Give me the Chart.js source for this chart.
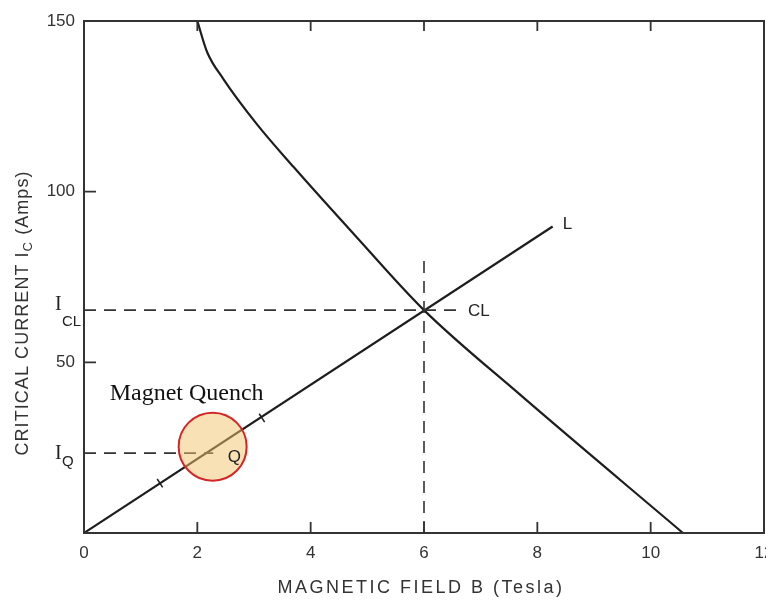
<!DOCTYPE html>
<html><head><meta charset="utf-8">
<script src="https://cdn.jsdelivr.net/npm/chart.js@4.4.0/dist/chart.umd.min.js"></script>
<style>html,body{margin:0;padding:0;background:#fff;}</style>
</head><body>
<canvas id="c" width="766" height="603"></canvas>
<script>
// ---- data ----
const xTicks = [0, 2, 4, 6, 8, 10, 12];
const yTicks = [0, 50, 100, 150];
// critical current curve Ic(B)
const curveB  = [2.0, 2.17, 2.46, 3.05, 3.7, 4.82, 6.0, 7.69, 10.57];
const curveIc = [150, 141, 133, 119.8, 107.2, 86.5, 65.3, 40.6, 0];
// load line L
const loadB = [0, 8.27];
const loadI = [0, 89.8];
// small marks on the load line
const markB = [1.34, 3.14];
const markI = [14.6, 33.7];
// critical point CL
const clB = 6.0, clI = 65.3;
const clDashEndB = 6.6, clVertTopI = 82;
// quench point Q
const qB = 2.2, qI = 23.4;
const qDashEndB = 2.28;
// highlight circle centre
const circB = 2.27, circI = 25.3;

const SANS = '"Liberation Sans", Arial, sans-serif';
const SERIF = '"Liberation Serif", "Times New Roman", serif';
const INK = '#1e1e1e';

const pts = (xs, ys) => xs.map((x, i) => ({x, y: ys[i]}));
const dashStyle = {showLine: true, borderColor: '#333', borderWidth: 1.6, borderDash: [12, 8], pointRadius: 0, fill: false};

const annot = {
  id: 'annot',
  afterDatasetsDraw(chart) {
    const {ctx, chartArea: a, scales: {x, y}} = chart;
    ctx.save();
    // frame
    ctx.strokeStyle = '#333';
    ctx.lineWidth = 2;
    ctx.strokeRect(a.left, a.top, a.right - a.left, a.bottom - a.top);
    // inward ticks
    ctx.lineWidth = 1.8;
    ctx.beginPath();
    x.ticks.forEach(t => {
      if (t.value <= x.min || t.value >= x.max) return;
      const px = x.getPixelForValue(t.value);
      ctx.moveTo(px, a.bottom); ctx.lineTo(px, a.bottom - 11);
      ctx.moveTo(px, a.top); ctx.lineTo(px, a.top + 10);
    });
    y.ticks.forEach(t => {
      if (t.value <= y.min || t.value >= y.max) return;
      const py = y.getPixelForValue(t.value);
      ctx.moveTo(a.left, py); ctx.lineTo(a.left + 12, py);
    });
    ctx.stroke();

    ctx.fillStyle = '#222';
    ctx.textBaseline = 'middle';
    // L label
    ctx.font = '17px ' + SANS;
    ctx.textAlign = 'left';
    ctx.fillText('L', x.getPixelForValue(loadB[1]) + 10, y.getPixelForValue(loadI[1]) - 2);
    // CL label
    ctx.fillText('CL', x.getPixelForValue(clB) + 44, y.getPixelForValue(clI) + 1);
    // Q label
    ctx.fillText('Q', x.getPixelForValue(qB) + 19, y.getPixelForValue(qI) + 4);

    // I_CL and I_Q on the y axis
    const sub = (main, s, py, dyMain, dySub) => {
      ctx.textAlign = 'left';
      ctx.font = '20px ' + SERIF;
      ctx.fillText(main, 55, py + dyMain);
      ctx.font = '15px ' + SANS;
      ctx.fillText(s, 62, py + dySub);
    };
    sub('I', 'CL', y.getPixelForValue(clI), -5, 12);
    sub('I', 'Q', y.getPixelForValue(qI), 1, 9);

    // Magnet Quench
    ctx.textAlign = 'center';
    ctx.textBaseline = 'alphabetic';
    ctx.fillStyle = '#111';
    ctx.font = '24px ' + SERIF;
    ctx.fillText('Magnet Quench', x.getPixelForValue(circB) - 26, y.getPixelForValue(circI) - 47);

    // axis titles
    ctx.fillStyle = '#333';
    ctx.textBaseline = 'middle';
    const drawRuns = (runs, cx, cy, rot, target) => {
      ctx.save();
      ctx.translate(cx, cy);
      ctx.rotate(rot);
      ctx.textAlign = 'left';
      let total = 0, nch = 0;
      runs.forEach(r => { ctx.font = r.font; ctx.letterSpacing = '0px'; total += ctx.measureText(r.t).width; nch += r.t.length; });
      const ls = Math.max(0, (target - total) / nch);
      let cur = -target / 2;
      runs.forEach(r => {
        ctx.font = r.font;
        ctx.letterSpacing = ls + 'px';
        ctx.fillText(r.t, cur, r.dy || 0);
        cur += ctx.measureText(r.t).width;
      });
      ctx.restore();
    };
    drawRuns([{t: 'MAGNETIC FIELD B (Tesla)', font: '18px ' + SANS}], 421, 588, 0, 287);
    drawRuns([
      {t: 'CRITICAL CURRENT I', font: '18px ' + SANS},
      {t: 'C', font: '13px ' + SANS, dy: 5},
      {t: ' (Amps)', font: '18px ' + SANS}
    ], 23, 313, -Math.PI / 2, 285);
    ctx.restore();
  }
};

new Chart(document.getElementById('c').getContext('2d'), {
  type: 'scatter',
  data: {
    datasets: [
      {data: [{x: circB, y: circI}], pointRadius: 34, pointStyle: 'circle',
       backgroundColor: 'rgba(244, 196, 110, 0.5)', borderColor: '#d42626', borderWidth: 2},
      Object.assign({data: pts([0, clDashEndB], [clI, clI])}, dashStyle),
      Object.assign({data: pts([clB, clB], [0, clVertTopI])}, dashStyle),
      Object.assign({data: pts([0, qDashEndB], [qI, qI])}, dashStyle),
      {data: pts(curveB, curveIc), showLine: true, borderColor: INK, borderWidth: 2.2,
       pointRadius: 0, cubicInterpolationMode: 'monotone', fill: false},
      {data: pts(loadB, loadI), showLine: true, borderColor: INK, borderWidth: 2.2, pointRadius: 0, fill: false},
      {data: pts(markB, markI), showLine: false, pointStyle: 'line', rotation: 57, pointRadius: 5,
       borderColor: INK, borderWidth: 1.5}
    ]
  },
  options: {
    responsive: false,
    animation: false,
    events: [],
    layout: {autoPadding: false, padding: {top: 21, right: 2, left: 0, bottom: 0}},
    plugins: {legend: {display: false}, tooltip: {enabled: false}},
    scales: {
      x: {
        type: 'linear', min: 0, max: 12,
        afterBuildTicks: s => { s.ticks = xTicks.map(v => ({value: v})); },
        grid: {display: false, drawTicks: false},
        border: {display: false},
        ticks: {padding: 10, autoSkip: false, maxRotation: 0, color: '#333', font: {family: SANS, size: 17}},
        afterFit: s => { s.height = 70; s.paddingLeft = 0; s.paddingRight = 0; }
      },
      y: {
        type: 'linear', min: 0, max: 150,
        afterBuildTicks: s => { s.ticks = yTicks.map(v => ({value: v})); },
        grid: {display: false, drawTicks: false},
        border: {display: false},
        ticks: {padding: 9, color: '#333', font: {family: SANS, size: 17},
                callback: v => (v === 0 ? '' : String(v))},
        afterFit: s => { s.width = 84; s.paddingTop = 0; s.paddingBottom = 0; }
      }
    }
  },
  plugins: [annot]
});
</script>
</body></html>
